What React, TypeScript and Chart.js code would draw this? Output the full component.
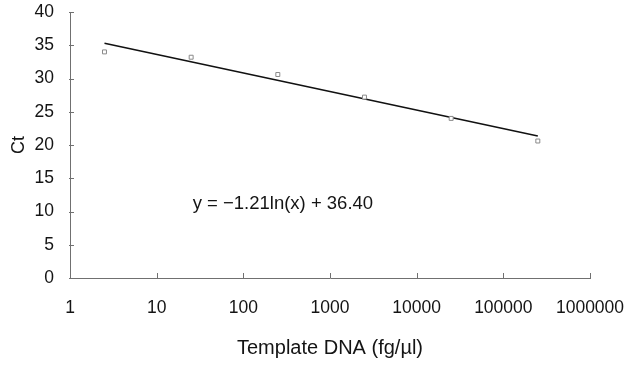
import React, { useEffect, useRef } from "react";
import { Chart, registerables } from "chart.js";

Chart.register(...registerables);

const concentrations = [2.5, 25, 250, 2500, 25000, 250000];
const ctValues = [34.0, 33.2, 30.6, 27.2, 24.0, 20.6];
const trendX = [2.5, 250000];
const trendY = [35.29, 21.36];
const xTickValues = [1, 10, 100, 1000, 10000, 100000, 1000000];
const yTickValues = [0, 5, 10, 15, 20, 25, 30, 35, 40];
const equationText = "y = \u22121.21ln(x) + 36.40";
const equationAt = { x: 26, y: 11.1 };
const xTitle = "Template DNA (fg/\u00b5l)";
const yTitle = "Ct";

const FONT = "'Liberation Sans', Arial, sans-serif";
const TEXT = "#141414";
const AXIS = "#707070";

const innerTicks = {
  id: "innerTicks",
  afterDatasetsDraw(chart: any) {
    const { ctx, chartArea, scales } = chart;
    ctx.save();
    ctx.strokeStyle = AXIS;
    ctx.lineWidth = 1;
    ctx.beginPath();
    for (const v of xTickValues) {
      const px = Math.round(scales.x.getPixelForValue(v)) + 0.5;
      ctx.moveTo(px, chartArea.bottom);
      ctx.lineTo(px, chartArea.bottom - 5);
    }
    for (const v of yTickValues) {
      const py = Math.round(scales.y.getPixelForValue(v)) + 0.5;
      ctx.moveTo(chartArea.left - 1, py);
      ctx.lineTo(chartArea.left + 4, py);
    }
    ctx.stroke();
    ctx.fillStyle = TEXT;
    ctx.font = `18.5px ${FONT}`;
    ctx.textAlign = "left";
    ctx.textBaseline = "middle";
    ctx.fillText(
      equationText,
      scales.x.getPixelForValue(equationAt.x),
      scales.y.getPixelForValue(equationAt.y)
    );
    ctx.restore();
  },
};

export default function App() {
  const ref = useRef<HTMLCanvasElement | null>(null);
  useEffect(() => {
    if (!ref.current) return;
    const chart = new Chart(ref.current, {
      type: "scatter",
      data: {
        datasets: [
          {
            label: "trend",
            data: trendX.map((x, i) => ({ x, y: trendY[i] })),
            showLine: true,
            borderColor: "#111111",
            borderWidth: 1.6,
            pointRadius: 0,
            order: 2,
          },
          {
            label: "Ct",
            data: concentrations.map((x, i) => ({ x, y: ctValues[i] })),
            pointStyle: "rect",
            pointRadius: 2.8,
            borderColor: "#8a8a8a",
            borderWidth: 1,
            backgroundColor: "#ffffff",
            order: 1,
          },
        ],
      },
      options: {
        animation: false,
        responsive: false,
        layout: { padding: { left: 0, right: 35, top: 12, bottom: 0 } },
        plugins: {
          legend: { display: false },
          tooltip: { enabled: false },
        },
        scales: {
          x: {
            type: "logarithmic",
            min: 1,
            max: 1000000,
            afterBuildTicks: (s: any) => {
              s.ticks = xTickValues.map((v) => ({ value: v }));
            },
            afterFit: (s: any) => {
              s.height = 88;
              s.paddingLeft = 0;
              s.paddingRight = 0;
            },
            ticks: {
              autoSkip: false,
              maxRotation: 0,
              padding: 20,
              color: TEXT,
              font: { family: FONT, size: 17.5 },
              callback: (v: any) => String(v),
            },
            grid: { display: true, drawOnChartArea: false, drawTicks: false },
            border: { display: true, color: AXIS, width: 1 },
            title: {
              display: true,
              text: xTitle,
              color: TEXT,
              font: { family: FONT, size: 20 },
              padding: { top: 0, bottom: 6 },
            },
          },
          y: {
            type: "linear",
            min: 0,
            max: 40,
            afterBuildTicks: (s: any) => {
              s.ticks = yTickValues.map((v) => ({ value: v }));
            },
            afterFit: (s: any) => {
              s.width = 70;
              s.paddingTop = 0;
              s.paddingBottom = 0;
            },
            ticks: {
              padding: 16,
              color: TEXT,
              font: { family: FONT, size: 17.5 },
            },
            grid: { display: true, drawOnChartArea: false, drawTicks: false },
            border: { display: true, color: AXIS, width: 1 },
            title: {
              display: true,
              text: yTitle,
              color: TEXT,
              font: { family: FONT, size: 18 },
              padding: { top: 8, bottom: 0 },
            },
          },
        },
      },
      plugins: [innerTicks],
    } as any);
    return () => chart.destroy();
  }, []);
  return (
    <div style={{ position: "fixed", left: 0, top: 0, width: 625, height: 366, background: "#fff" }}>
      <canvas ref={ref} width={625} height={366} style={{ display: "block" }} />
    </div>
  );
}
